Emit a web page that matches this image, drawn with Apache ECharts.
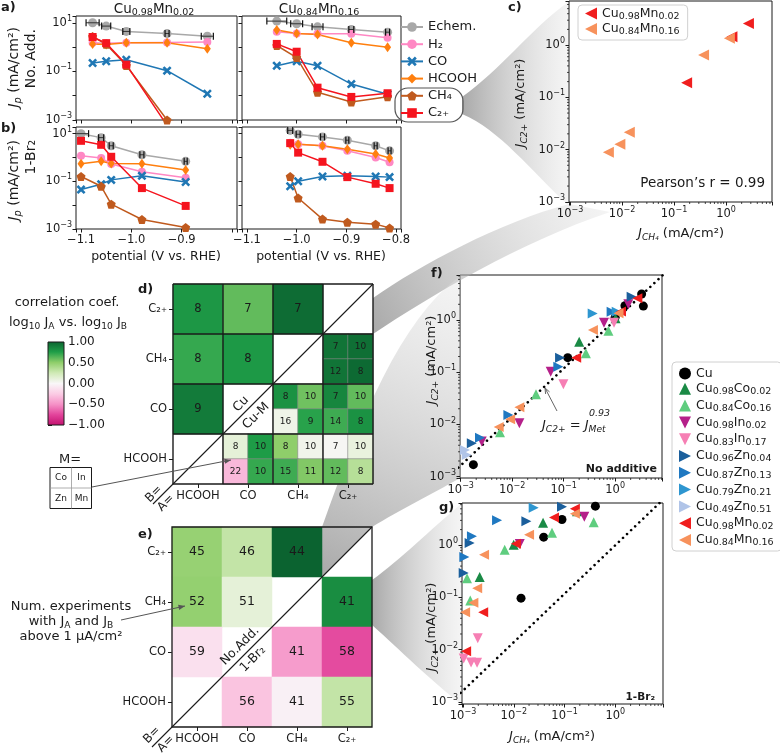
<!DOCTYPE html>
<html><head><meta charset="utf-8">
<script src="https://cdn.jsdelivr.net/npm/echarts/dist/echarts.min.js"></script>
<style>html,body{margin:0;padding:0;background:#fff}#c{width:780px;height:755px}</style>
</head><body><div id="c"></div>
<script>
// ================= DATA =================
const productNames = ['Echem.', 'H₂', 'CO', 'HCOOH', 'CH₄', 'C₂₊'];

// panel a, Cu0.98Mn0.02, no additive
const potA1 = [-1.077, -1.05, -1.01, -0.929, -0.849];
const echemA1 = [10, 7.3, 4.4, 3.6, 2.8];
const errA1 = [0.013, 0.009, 0.007, 0.004, 0.012];
const h2A1 = [1.5, 1.45, 1.5, 1.55, 1.6];
const coA1 = [0.22, 0.26, 0.30, 0.107, 0.012];
const hcoohA1 = [1.35, 1.27, 1.5, 1.5, 0.85];
const ch4A1 = [2.7, 1.3, 0.175, 0.001, 0.0004];
const c2A1 = [2.6, 1.45, 0.19, 0.0006, 0.0003];

// panel a, Cu0.84Mn0.16, no additive
const potA2 = [-1.04, -1.0, -0.958, -0.89, -0.817];
const echemA2 = [11.7, 9.1, 6.8, 5.3, 4.1];
const errA2 = [0.02, 0.012, 0.011, 0.005, 0.004];
const h2A2 = [4.3, 3.6, 3.5, 3.5, 2.4];
const coA2 = [0.17, 0.26, 0.17, 0.030, 0.0115];
const hcoohA2 = [5.0, 3.6, 3.3, 1.5, 0.98];
const ch4A2 = [1.16, 0.37, 0.0138, 0.00546, 0.0091];
const c2A2 = [1.35, 0.645, 0.0214, 0.0089, 0.0126];

// panel b, Cu0.98Mn0.02, 1-Br2
const potB1 = [-1.1, -1.06, -1.04, -0.979, -0.892];
const echemB1 = [10, 6.8, 3.1, 1.3, 0.69];
const errB1 = [0.015, 0.005, 0.004, 0.004, 0.003];
const h2B1 = [1.18, 0.95, 0.53, 0.25, 0.14];
const coB1 = [0.045, 0.076, 0.115, 0.17, 0.093];
const hcoohB1 = [0.54, 0.69, 0.56, 0.54, 0.30];
const ch4B1 = [0.16, 0.062, 0.011, 0.0025, 0.00115];
const c2B1 = [5.0, 3.4, 1.07, 0.052, 0.0093];

// panel b, Cu0.84Mn0.16, 1-Br2
const potB2 = [-1.013, -0.997, -0.948, -0.898, -0.841, -0.813];
const echemB2 = [13.7, 9.4, 7.3, 5.3, 3.1, 1.9];
const errB2 = [0.005, 0.004, 0.004, 0.003, 0.003, 0.003];
const h2B2 = [4.2, 3.6, 3.1, 1.9, 1.0, 0.63];
const coB2 = [0.062, 0.10, 0.16, 0.17, 0.16, 0.15];
const hcoohB2 = [3.4, 3.6, 3.1, 2.2, 1.4, 0.95];
const ch4B2 = [0.16, 0.020, 0.0026, 0.0019, 0.0016, 0.0011];
const c2B2 = [4.0, 1.6, 0.66, 0.15, 0.079, 0.052];

// alloys (legend f/g)
const alloyLabels = [['Cu'], ['Cu','0.98','Co','0.02'], ['Cu','0.84','Co','0.16'], ['Cu','0.98','In','0.02'],
  ['Cu','0.83','In','0.17'], ['Cu','0.96','Zn','0.04'], ['Cu','0.87','Zn','0.13'], ['Cu','0.79','Zn','0.21'],
  ['Cu','0.49','Zn','0.51'], ['Cu','0.98','Mn','0.02'], ['Cu','0.84','Mn','0.16']];

// panel f (no additive): [J_CH4, J_C2+]
const fCu = [[0.00176,0.0017],[0.12,0.19],[1.0,1.125],[1.55,1.88],[3.27,3.15],[3.53,1.85]];
const fCo02 = [[0.2,0.385],[1.02,1.08]];
const fCo16 = [[0.0058,0.0071],[0.029,0.038],[0.27,0.23],[0.74,0.62]];
const fIn02 = [[0.00256,0.0047],[0.0138,0.0105],[0.056,0.1025],[0.607,0.889],[1.8,2.0]];
const fIn17 = [[0.0987,0.0586],[0.949,0.889]];
const fZn04 = [[0.00164,0.00435],[0.085,0.19],[2.09,2.8]];
const fZn13 = [[0.00237,0.00559],[0.00843,0.0152],[0.0787,0.128],[0.855,1.444]];
const fZn21 = [[0.366,1.34],[1.07,1.444]];
const fZn51 = [[0.00121,0.00324],[0.00131,0.0026]];

// panel g (1-Br2)
const gCu = [[0.405,5.62],[0.089,3.12],[0.0388,1.43],[0.0139,0.097]];
const gCo02 = [[0.0377,2.69],[0.00995,1.03],[0.00213,0.246],[0.176,4.5]];
const gCo16 = [[0.375,2.77],[0.0566,1.73],[0.00662,0.826],[0.0012,0.235],[0.00139,0.0875]];
const gIn02 = [[0.245,3.51],[0.0131,1.06]];
const gIn17 = [[0.00195,0.0165],[0.00103,0.0068],[0.00144,0.0057],[0.00189,0.00562]];
const gZn04 = [[0.00103,0.294],[0.00135,1.11],[0.0177,2.9],[0.089,5.46]];
const gZn13 = [[0.0015,1.49],[0.00106,0.597],[0.00468,3.03]];
const gZn21 = [[0.0247,5.22]];
const gZn51 = [];

// fitted line J_C2+ = J_Met^0.93 (end points)
const fitX = [0.0009, 9];
const fitY = [0.00149, 7.7];

// correlation matrices
const corrCats = ['HCOOH', 'CO', 'CH₄', 'C₂₊'];
const subCats = ['0','1','2','3','4','5','6','7'];
// [A index, B index, correlation, number of experiments]
const dCuCells = [[0,3,0.78,8],[1,3,0.6,7],[2,3,0.96,7],[0,2,0.7,8],[1,2,0.77,8],[0,1,0.9,9]];
// Cu-M blocks [A, B]; values in order Co, In, Zn, Mn
const dBlocks = [[3,2],[2,1],[3,1],[1,0],[2,0],[3,0]];
const dBlockCorr = [[0.93,0.95,0.93,0.97],[0.8,0.57,0.06,0.73],[0.85,0.6,0.68,0.8],
  [0.12,0.76,-0.33,0.7],[0.5,0.05,0.68,0.53],[0.02,0.1,0.6,0.35]];
const dBlockN = [[7,10,12,8],[8,10,16,9],[7,10,14,8],[8,10,22,10],[8,10,15,11],[7,10,12,8]];
const eNoAddCells = [[0,3,0.47,45],[1,3,0.3,46],[2,3,1.0,44],[0,2,0.48,52],[1,2,0.12,51],[0,1,-0.13,59]];
const eBrCells = [[3,2,0.82,41],[2,1,-0.45,41],[3,1,-0.72,58],[1,0,-0.28,56],[2,0,-0.04,41],[3,0,0.3,55]];
const cbTicks = [-1, 1];

// ================= STYLE / LAYOUT =================
const FONT = 'DejaVu Sans';
const INK = '#1a1a1a';
const heatStops = ['#c2106e','#e2429a','#f590c6','#fbcbe4','#f9f7f8','#d0eab6','#8fce6a','#1f9e48','#0b6330'];
const P_X = 'path://M2,0L5,3L8,0L10,2L7,5L10,8L8,10L5,7L2,10L0,8L3,5L0,2Z';
const P_PENT = 'path://M5,0L10,3.8L8.1,10L1.9,10L0,3.8Z';
const P_DIAM = 'path://M3,0L6,5L3,10L0,5Z';
const productStyles = [
  {color:'#a8a8a8', symbol:'circle', size:9},
  {color:'#ff88c4', symbol:'circle', size:8},
  {color:'#1f77b4', symbol:P_X, size:9},
  {color:'#ff7f0e', symbol:P_DIAM, size:[7,10]},
  {color:'#c05a1e', symbol:P_PENT, size:9},
  {color:'#f5141e', symbol:'rect', size:8}
];
const alloyColors = ['#000000','#1a8a45','#5fcd7f','#b5208a','#f67fb4','#1b5f9c','#1f78c1','#2e96d0','#b0c4e8','#f01e1e','#f7925c'];
const alloyRotate = [0,0,0,180,180,-90,-90,-90,-90,90,90];
const TRI = {0:'path://M5,0L10,10L0,10Z', 180:'path://M0,0L10,0L5,10Z', '-90':'path://M0,0L10,5L0,10Z', 90:'path://M10,0L0,5L10,10Z'};
const alloyIcon = k => k === 0 ? 'circle' : TRI[alloyRotate[k]];

const L = [
  {left:76, top:16, width:161, height:104},   // 0 a1
  {left:242, top:16, width:159, height:104},  // 1 a2
  {left:76, top:127, width:161, height:102},  // 2 b1
  {left:242, top:127, width:159, height:102}, // 3 b2
  {left:569, top:1, width:203, height:201},   // 4 c
  {left:460, top:275, width:202, height:203}, // 5 f
  {left:462, top:503, width:201, height:201}, // 6 g
  {left:173, top:284, width:200, height:200}, // 7 d
  {left:173, top:284, width:200, height:200}, // 8 d sub
  {left:172, top:527, width:200, height:200}, // 9 e
  {left:48, top:342, width:16, height:83}     // 10 colorbar
];
const grids = L.map((g, i) => Object.assign({}, g, (i <= 6) ? {show:true, borderColor:INK, borderWidth:1, backgroundColor:'transparent'} : {}));

const alloyName = a => a.join('');
const alloyRich = name => {
  const a = alloyLabels.find(x => alloyName(x) === name) || [name];
  return a.map((t, i) => (i % 2 === 0 ? '{n|' : '{s|') + t + '}').join('');
};
const linGrad = (x, y, x2, y2, colors) => ({type:'linear', x, y, x2, y2, global:false,
  colorStops:colors.map((c, i) => ({offset:i / (colors.length - 1), color:c}))});

const tickStyle = {show:true, length:3.5, lineStyle:{color:INK, width:1}};
const logRich = {
  b:{fontSize:11.5, fontFamily:FONT, color:INK, lineHeight:16},
  p:{fontSize:8, fontFamily:FONT, color:INK, lineHeight:9, verticalAlign:'top'}
};
function logFmt(filter) {
  return v => {
    const e = Math.log10(v), r = Math.round(e);
    if (Math.abs(e - r) > 1e-3) return '';
    if (filter && !filter(r)) return '';
    return '{b|10}{p|' + (r < 0 ? '−' : '') + Math.abs(r) + '}';
  };
}
const potFmt = maxLabel => v => {
  const r = Math.round(v * 10) / 10;
  if (Math.abs(v - r) > 1e-6 || r > maxLabel + 1e-6) return '';
  return (r < 0 ? '−' : '') + Math.abs(r).toFixed(1);
};
function potAxis(gi, showLabel, maxLabel) {
  return {type:'value', gridIndex:gi, min:-1.11, max:-0.79, splitNumber:3, axisLine:{show:false},
    axisTick:tickStyle, splitLine:{show:false},
    axisLabel:{show:showLabel, formatter:potFmt(maxLabel), fontSize:11.5, fontFamily:FONT, color:INK, margin:5}};
}
function jpAxis(gi, showLabel) {
  return {type:'log', logBase:10, gridIndex:gi, min:0.001, max:19, axisLine:{show:false},
    axisTick:tickStyle, splitLine:{show:false},
    axisLabel:{show:showLabel, formatter:logFmt(e => Math.abs(e) % 2 === 1), rich:logRich, margin:4}};
}
function jAxis(gi, min, max) {
  return {type:'log', logBase:10, gridIndex:gi, min, max, axisLine:{show:false},
    axisTick:tickStyle, splitLine:{show:false},
    axisLabel:{formatter:logFmt(null), rich:logRich, margin:4}};
}
function catAxis(gi, isX) {
  return {type:'category', gridIndex:gi, data:corrCats, position: isX ? 'bottom' : 'left',
    axisLine:{show:false}, axisTick:{show:true, alignWithLabel:true, interval:0, length:4, lineStyle:{color:INK}},
    axisLabel:{interval:0, fontSize:11.5, fontFamily:FONT, color:INK, margin:6}, splitLine:{show:false}};
}
function hiddenCat(gi) { return {type:'category', gridIndex:gi, data:subCats, show:false}; }

const cRange = {x:[0.000955, 7.67], y:[0.00099, 7.0]};
const fRange = {x:[0.000968, 8.13], y:[0.000944, 7.28]};
const gRange = {x:[0.000955, 8.7], y:[0.000912, 6.46]};

const xAxes = [potAxis(0,false,-0.9), potAxis(1,false,-0.8), potAxis(2,true,-0.9), potAxis(3,true,-0.8),
  jAxis(4, cRange.x[0], cRange.x[1]), jAxis(5, fRange.x[0], fRange.x[1]), jAxis(6, gRange.x[0], gRange.x[1]),
  catAxis(7,true), hiddenCat(8), catAxis(9,true),
  {type:'value', gridIndex:10, min:0, max:1, show:false}];
const yAxes = [jpAxis(0,true), jpAxis(1,false), jpAxis(2,true), jpAxis(3,false),
  jAxis(4, cRange.y[0], cRange.y[1]), jAxis(5, fRange.y[0], fRange.y[1]), jAxis(6, gRange.y[0], gRange.y[1]),
  catAxis(7,false), hiddenCat(8), catAxis(9,false),
  {type:'value', gridIndex:10, min:-1, max:1, interval:0.5, position:'right', axisLine:{show:false},
   axisTick:{show:true, length:4, lineStyle:{color:INK}}, splitLine:{show:false},
   axisLabel:{formatter:v => (v < 0 ? '−' : '') + Math.abs(v).toFixed(2), fontSize:12, fontFamily:FONT, color:INK, margin:4}}];

// ================= SERIES =================
const series = [];
const heatIdx = [];

function errBar(params, api) {
  const x = api.value(0), y = api.value(1), e = api.value(2);
  const p1 = api.coord([x - e, y]), p2 = api.coord([x + e, y]), h = 3.5;
  const st = {stroke:'#111', lineWidth:1.2};
  return {type:'group', children:[
    {type:'line', shape:{x1:p1[0], y1:p1[1], x2:p2[0], y2:p2[1]}, style:{stroke:'#333', lineWidth:1}},
    {type:'line', shape:{x1:p1[0], y1:p1[1]-h, x2:p1[0], y2:p1[1]+h}, style:st},
    {type:'line', shape:{x1:p2[0], y1:p2[1]-h, x2:p2[0], y2:p2[1]+h}, style:st}
  ]};
}

const abPanels = [
  {gi:0, pot:potA1, err:errA1, vals:[echemA1, h2A1, coA1, hcoohA1, ch4A1, c2A1]},
  {gi:1, pot:potA2, err:errA2, vals:[echemA2, h2A2, coA2, hcoohA2, ch4A2, c2A2]},
  {gi:2, pot:potB1, err:errB1, vals:[echemB1, h2B1, coB1, hcoohB1, ch4B1, c2B1]},
  {gi:3, pot:potB2, err:errB2, vals:[echemB2, h2B2, coB2, hcoohB2, ch4B2, c2B2]}
];
abPanels.forEach(p => {
  p.vals.forEach((arr, k) => {
    const st = productStyles[k];
    series.push({type:'line', name:productNames[k], xAxisIndex:p.gi, yAxisIndex:p.gi,
      data:p.pot.map((x, i) => [x, arr[i]]), symbol:st.symbol, symbolSize:st.size, showAllSymbol:true,
      lineStyle:{color:st.color, width:1.5}, itemStyle:{color:st.color}, clip:true, silent:true});
  });
  series.push({type:'custom', xAxisIndex:p.gi, yAxisIndex:p.gi, clip:true, z:5, silent:true,
    data:p.pot.map((x, i) => [x, p.vals[0][i], p.err[i]]), renderItem:errBar});
});

const zip = (a, b) => a.map((v, i) => [v, b[i]]).filter(d => d[0] >= 0.001 && d[1] >= 0.001);
const mnNoAdd02 = zip(ch4A1, c2A1), mnNoAdd16 = zip(ch4A2, c2A2);
const mnBr02 = zip(ch4B1, c2B1), mnBr16 = zip(ch4B2, c2B2);

function minorTicks(range) {
  return (params, api) => {
    const cs = params.coordSys, ch = [];
    const st = {stroke:INK, lineWidth:0.8};
    for (let e = -4; e <= 1; e++) for (let m = 2; m <= 9; m++) {
      const v = m * Math.pow(10, e);
      if (v > range.x[0] && v < range.x[1]) {
        const px = api.coord([v, range.y[0]])[0];
        ch.push({type:'line', shape:{x1:px, y1:cs.y + cs.height, x2:px, y2:cs.y + cs.height + 2}, style:st});
      }
      if (v > range.y[0] && v < range.y[1]) {
        const py = api.coord([range.x[0], v])[1];
        ch.push({type:'line', shape:{x1:cs.x - 2, y1:py, x2:cs.x, y2:py}, style:st});
      }
    }
    return {type:'group', children:ch};
  };
}

function scatterSet(gi, dataList, idxList, size) {
  dataList.forEach((d, j) => {
    const k = idxList[j];
    series.push({type:'scatter', name:alloyName(alloyLabels[k]), xAxisIndex:gi, yAxisIndex:gi, data:d,
      symbol:alloyIcon(k), symbolSize: k === 0 ? size - 1 : size,
      itemStyle:{color:alloyColors[k], opacity:1}, clip:true, silent:true});
  });
}
function fitSeries(gi) {
  series.push({type:'line', xAxisIndex:gi, yAxisIndex:gi, data:fitX.map((x, i) => [x, fitY[i]]), symbol:'none',
    lineStyle:{color:'#000', width:2.6, type:[0.01, 5.6], cap:'round'}, clip:true, silent:true, z:1});
}
// c
scatterSet(4, [mnNoAdd02, mnNoAdd16], [9, 10], 11);
series.push({type:'custom', xAxisIndex:4, yAxisIndex:4, clip:false, silent:true, data:[[cRange.x[0], cRange.y[0]]], renderItem:minorTicks(cRange)});
// f
fitSeries(5);
scatterSet(5, [fCu, fCo02, fCo16, fIn02, fIn17, fZn04, fZn13, fZn21, fZn51, mnNoAdd02, mnNoAdd16], [0,1,2,3,4,5,6,7,8,9,10], 10);
series.push({type:'custom', xAxisIndex:5, yAxisIndex:5, clip:false, silent:true, data:[[fRange.x[0], fRange.y[0]]], renderItem:minorTicks(fRange)});
// g
fitSeries(6);
scatterSet(6, [gCu, gCo02, gCo16, gIn02, gIn17, gZn04, gZn13, gZn21, gZn51, mnBr02, mnBr16], [0,1,2,3,4,5,6,7,8,9,10], 10);
series.push({type:'custom', xAxisIndex:6, yAxisIndex:6, clip:false, silent:true, data:[[gRange.x[0], gRange.y[0]]], renderItem:minorTicks(gRange)});

// heatmaps
const hLabel = fs => ({show:true, formatter:p => String(p.data[3]), fontSize:fs, fontFamily:FONT, color:INK});
series.push({type:'heatmap', xAxisIndex:7, yAxisIndex:7, data:dCuCells, label:hLabel(11.5), silent:true});
heatIdx.push(series.length - 1);
const subOffsets = [[0,1],[1,1],[0,0],[1,0]]; // Co, In, Zn, Mn
const dSubCells = [];
dBlocks.forEach((b, k) => subOffsets.forEach((o, j) =>
  dSubCells.push([2 * b[0] + o[0], 2 * b[1] + o[1], dBlockCorr[k][j], dBlockN[k][j]])));
series.push({type:'heatmap', xAxisIndex:8, yAxisIndex:8, data:dSubCells, label:hLabel(9),
  itemStyle:{borderColor:'#8a8a8a', borderWidth:0.6}, silent:true});
heatIdx.push(series.length - 1);
series.push({type:'heatmap', xAxisIndex:9, yAxisIndex:9, data:eNoAddCells.concat(eBrCells), label:hLabel(12.5), silent:true});
heatIdx.push(series.length - 1);

const lineEl = (x1, y1, x2, y2, w) => ({type:'line', shape:{x1, y1, x2, y2}, style:{stroke:INK, lineWidth:w}});
series.push({type:'custom', xAxisIndex:7, yAxisIndex:7, clip:false, silent:true, z:10, data:[[0,0]],
  renderItem:(params) => {
    const cs = params.coordSys, ch = [];
    for (let k = 0; k <= 4; k++) {
      ch.push(lineEl(cs.x + k * cs.width / 4, cs.y, cs.x + k * cs.width / 4, cs.y + cs.height, 1.4));
      ch.push(lineEl(cs.x, cs.y + k * cs.height / 4, cs.x + cs.width, cs.y + k * cs.height / 4, 1.4));
    }
    ch.push(lineEl(cs.x - 20, cs.y + cs.height + 20, cs.x + cs.width, cs.y, 1.1));
    return {type:'group', children:ch};
  }});
series.push({type:'custom', xAxisIndex:9, yAxisIndex:9, clip:false, silent:true, z:10, data:[[0,0]],
  renderItem:(params) => {
    const cs = params.coordSys;
    return {type:'group', children:[
      {type:'rect', shape:{x:cs.x, y:cs.y, width:cs.width, height:cs.height}, style:{stroke:INK, lineWidth:1.3, fill:null}},
      lineEl(cs.x - 20, cs.y + cs.height + 20, cs.x + cs.width, cs.y, 1.1)]};
  }});
// colorbar
series.push({type:'custom', xAxisIndex:10, yAxisIndex:10, clip:false, silent:true, data:[[0, cbTicks[0]]],
  renderItem:(params, api) => {
    const top = api.coord([0, cbTicks[1]]), bot = api.coord([1, cbTicks[0]]);
    const cs = params.coordSys;
    return {type:'rect', shape:{x:cs.x, y:top[1], width:cs.width, height:bot[1] - top[1]},
      style:{fill:linGrad(0, 1, 0, 0, heatStops), stroke:INK, lineWidth:1}};
  }});

// ================= GRAPHICS =================
function grich(size) {
  const s = Math.round(size * 0.7 * 10) / 10;
  return {
    n:{fontSize:size, fontFamily:FONT, fill:INK, lineHeight:size + 4},
    i:{fontSize:size, fontFamily:FONT, fontStyle:'italic', fill:INK, lineHeight:size + 4},
    s:{fontSize:s, fontFamily:FONT, fill:INK, lineHeight:s, verticalAlign:'bottom'},
    si:{fontSize:s, fontFamily:FONT, fontStyle:'italic', fill:INK, lineHeight:s, verticalAlign:'bottom'},
    p:{fontSize:s, fontFamily:FONT, fill:INK, lineHeight:s, verticalAlign:'top'},
    b:{fontSize:size, fontFamily:FONT, fontWeight:'bold', fill:INK, lineHeight:size + 4}
  };
}
function T(x, y, text, o) {
  o = o || {};
  const size = o.size || 13;
  return {type:'text', x, y, rotation:o.rot || 0, z:100, silent:true,
    style:{text, rich:grich(size), fontSize:size, fontFamily:FONT, fontWeight:o.bold ? 'bold' : 'normal',
      fontStyle:o.italic ? 'italic' : 'normal', fill:o.color || INK, align:o.align || 'center', verticalAlign:o.va || 'middle'}};
}
function arrow(x1, y1, x2, y2, color, head, open) {
  const ang = Math.atan2(y2 - y1, x2 - x1);
  const a1 = ang + Math.PI - 0.38, a2 = ang + Math.PI + 0.38;
  const p1 = [x2 + head * Math.cos(a1), y2 + head * Math.sin(a1)];
  const p2 = [x2 + head * Math.cos(a2), y2 + head * Math.sin(a2)];
  const els = [{type:'line', z:100, silent:true, shape:{x1, y1, x2, y2}, style:{stroke:color, lineWidth:1}}];
  if (open) els.push({type:'polyline', z:100, silent:true, shape:{points:[p1, [x2, y2], p2]}, style:{stroke:color, lineWidth:1, fill:null}});
  else els.push({type:'polygon', z:100, silent:true, shape:{points:[[x2, y2], p1, p2]}, style:{fill:color}});
  return els;
}
// fan outline: start point followed by segments; 3-point segments are cubic curves, 1-point are lines
function fanPoints(start, segs) {
  const pts = [start];
  let cur = start;
  segs.forEach(s => {
    if (s.length === 1) { pts.push(s[0]); cur = s[0]; return; }
    const [c1, c2, e] = s;
    for (let t = 1; t <= 16; t++) {
      const u = t / 16, v = 1 - u;
      pts.push([v*v*v*cur[0] + 3*v*v*u*c1[0] + 3*v*u*u*c2[0] + u*u*u*e[0],
                v*v*v*cur[1] + 3*v*v*u*c1[1] + 3*v*u*u*c2[1] + u*u*u*e[1]]);
    }
    cur = e;
  });
  return pts;
}
function fan(start, segs, x0, y0, x1, y1) {
  return {type:'polygon', z:0, silent:true, shape:{points:fanPoints(start, segs)},
    style:{fill:linGrad(x0, y0, x1, y1, ['rgba(140,140,140,0.75)', 'rgba(225,225,225,0.35)']), stroke:null}};
}
const R90 = Math.PI / 2, R45 = Math.PI / 4;
const graphics = [
  fan([462,97], [[[500,70],[530,30],[568,2]], [[568,205]], [[530,170],[500,130],[462,114]]], 0, 0, 1, 0),
  fan([373,298], [[[420,265],[500,222],[569,204]], [[610,212]], [[520,242],[430,296],[373,334]]], 0, 1, 1, 0),
  fan([322,577], [[[322,527]], [[360,420],[400,320],[460,276]], [[460,478]], [[430,495],[400,510],[372,527]]], 0, 1, 1, 0),
  fan([372,580], [[[400,560],[430,530],[461,504]], [[461,704]], [[430,680],[400,650],[372,625]]], 0, 0, 1, 0),
  {type:'rect', z:100, silent:true, shape:{x:395, y:88, width:68, height:34, r:13}, style:{stroke:'#555', lineWidth:1.2, fill:null}},
  // titles & letters
  T(154, 9, '{n|Cu}{s|0.98}{n|Mn}{s|0.02}', {size:13.5}),
  T(319, 9, '{n|Cu}{s|0.84}{n|Mn}{s|0.16}', {size:13.5}),
  T(1, 8, 'a)', {bold:true, align:'left', size:13}),
  T(1, 129, 'b)', {bold:true, align:'left', size:13}),
  T(508, 8, 'c)', {bold:true, align:'left', size:13}),
  T(138, 290, 'd)', {bold:true, align:'left', size:13}),
  T(138, 535, 'e)', {bold:true, align:'left', size:13}),
  T(431, 274, 'f)', {bold:true, align:'left', size:13}),
  T(439, 508, 'g)', {bold:true, align:'left', size:13}),
  // a/b axis names
  T(14, 27, '{i|J}{si|p}{n| (mA/cm²)}', {rot:R90, align:'right', size:14}),
  T(31, 29, 'No. Add.', {rot:R90, align:'right', size:14}),
  T(14, 140, '{i|J}{si|p}{n| (mA/cm²)}', {rot:R90, align:'right', size:14}),
  T(31, 140, '1-Br₂', {rot:R90, align:'right', size:14}),
  T(156, 257, 'potential (V vs. RHE)', {size:12.5}),
  T(321, 257, 'potential (V vs. RHE)', {size:12.5}),
  // c
  T(521, 103, '{i|J}{si|C2+}{n| (mA/cm²)}', {rot:R90, size:13}),
  T(681, 234, '{i|J}{si|CH₄}{n| (mA/cm²)}', {size:13}),
  T(765, 183, 'Pearson’s r = 0.99', {align:'right', size:13.5}),
  // f / g
  T(432, 360, '{i|J}{si|C2+}{n| (mA/cm²)}', {rot:R90, size:13}),
  T(432, 627, '{i|J}{si|C2+}{n| (mA/cm²)}', {rot:R90, size:13}),
  T(552, 737, '{i|J}{si|CH₄}{n| (mA/cm²)}', {size:13}),
  T(657, 469, 'No additive', {bold:true, align:'right', size:11}),
  T(655, 697, '1-Br₂', {bold:true, align:'right', size:10.5}),
  T(542, 426, '{i|J}{si|C2+}{n| = }{i|J}{si|Met}', {align:'left', size:13}),
  T(589, 414, '0.93', {italic:true, align:'left', size:9.5}),
  // colorbar titles
  T(67, 303, 'correlation coef.', {size:13}),
  T(68, 323, '{n|log}{s|10}{n| J}{s|A}{n| vs. log}{s|10}{n| J}{s|B}', {size:13}),
  // d / e diagonal texts
  T(241, 404, 'Cu', {rot:R45, size:12.5}),
  T(256, 416, 'Cu-M', {rot:R45, size:12.5}),
  T(240, 646, 'No.Add.', {rot:R45, size:12.5}),
  T(253, 659, '1-Br₂', {rot:R45, size:12.5}),
  T(154, 494, 'B=', {rot:R45, size:12}),
  T(166, 503, 'A=', {rot:R45, size:12}),
  T(152, 735, 'B=', {rot:R45, size:12}),
  T(166, 744, 'A=', {rot:R45, size:12}),
  // M= table
  T(70, 460, 'M=', {size:13}),
  {type:'rect', z:100, silent:true, shape:{x:50, y:467.5, width:41.5, height:41}, style:{stroke:INK, lineWidth:1, fill:'#fff'}},
  {type:'line', z:100, silent:true, shape:{x1:71.5, y1:467.5, x2:71.5, y2:508.5}, style:{stroke:'#999', lineWidth:0.8}},
  {type:'line', z:100, silent:true, shape:{x1:50, y1:488, x2:91.5, y2:488}, style:{stroke:'#999', lineWidth:0.8}},
  T(61, 478, 'Co', {size:9}), T(81.5, 478, 'In', {size:9}),
  T(61, 498.5, 'Zn', {size:9}), T(81.5, 498.5, 'Mn', {size:9}),
  // experiment annotation
  T(71, 607, 'Num. experiments', {size:13}),
  T(71, 622, '{n|with J}{s|A}{n| and J}{s|B}', {size:13}),
  T(71, 637, 'above 1 μA/cm²', {size:13})
].concat(
  arrow(92, 487, 231, 460, '#555', 7, false),
  arrow(121, 620, 185, 606, '#555', 7, false),
  arrow(557, 411, 545, 388, '#666', 6, true)
);

// ================= OPTION =================
const legendTextRich = {
  n:{fontSize:12.5, fontFamily:FONT, color:INK, lineHeight:16},
  s:{fontSize:9.5, fontFamily:FONT, color:INK, lineHeight:9, verticalAlign:'bottom'}
};
const alloyLegendItem = k => ({name:alloyName(alloyLabels[k]), icon:alloyIcon(k), itemStyle:{color:alloyColors[k]}});
const option = {
  animation:false,
  backgroundColor:'#fff',
  grid:grids,
  xAxis:xAxes,
  yAxis:yAxes,
  visualMap:[{type:'continuous', show:false, min:-1, max:1, dimension:2, seriesIndex:heatIdx, inRange:{color:heatStops}}],
  legend:[
    {data:productNames, orient:'vertical', left:400, top:19.5, padding:0, itemWidth:22, itemHeight:12, itemGap:2.2,
     selectedMode:false, textStyle:{fontFamily:FONT, fontSize:13, color:INK, lineHeight:15}},
    {data:alloyLabels.map((a, k) => alloyLegendItem(k)), orient:'vertical', left:672, top:362, padding:[5,8,3,7], itemWidth:12, itemHeight:12,
     itemGap:2.3, selectedMode:false, backgroundColor:'#fff', borderColor:'#d0d0d0', borderWidth:1, borderRadius:4,
     formatter:alloyRich, textStyle:{fontFamily:FONT, fontSize:12.5, color:INK, rich:legendTextRich}},
    {data:[alloyLegendItem(9), alloyLegendItem(10)], orient:'vertical', left:578, top:5, padding:[2,8,3,7],
     itemWidth:12, itemHeight:12, itemGap:1, selectedMode:false, backgroundColor:'#fff', borderColor:'#d0d0d0', borderWidth:1,
     borderRadius:4, formatter:alloyRich, textStyle:{fontFamily:FONT, fontSize:12.5, color:INK, rich:legendTextRich}}
  ],
  graphic:graphics,
  series:series
};
const chart = echarts.init(document.getElementById('c'));
chart.setOption(option);
</script></body></html>
